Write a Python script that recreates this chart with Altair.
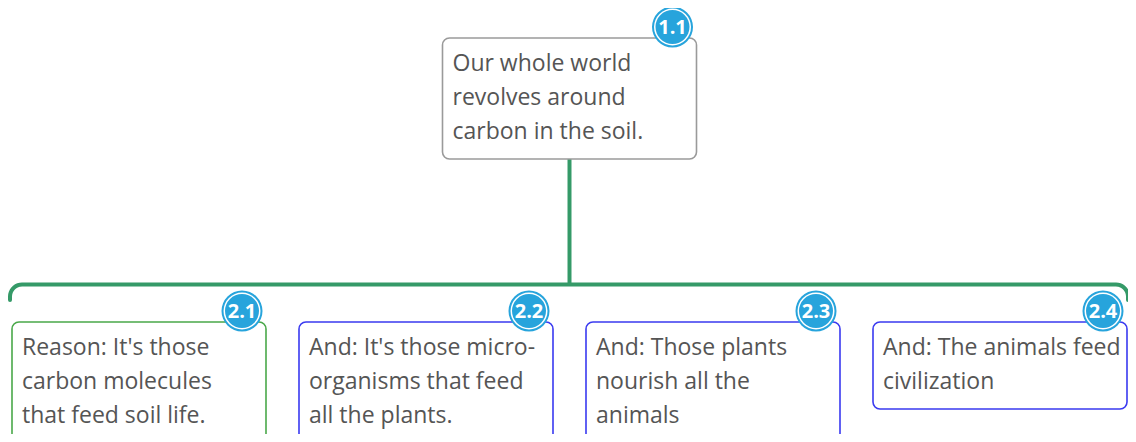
import altair as alt
import pandas as pd
import numpy as np

# ---- data ----
node_ids = ["1.1", "2.1", "2.2", "2.3", "2.4"]
node_lines = [
    ["Our whole world", "revolves around", "carbon in the soil."],
    ["Reason: It's those", "carbon molecules", "that feed soil life."],
    ["And: It's those micro-", "organisms that feed", "all the plants."],
    ["And: Those plants", "nourish all the", "animals"],
    ["And: The animals feed", "civilization"],
]
node_kind = ["claim", "reason", "and", "and", "and"]
node_level = [0, 1, 1, 1, 1]
node_col = [1.5, 0, 1, 2, 3]

# ---- layout ----
COL0, COLSTEP = 139, 287
BOX_W = 254
LINE_H = 34
LEVEL_TOP = [38, 322]
FONT = "Open Sans"
border = {"claim": "#9a9a9a", "reason": "#4aa84a", "and": "#3a3af0"}

boxes, texts, badges = [], [], []
for nid, lines, kind, lev, col in zip(node_ids, node_lines, node_kind, node_level, node_col):
    cx = COL0 + COLSTEP * col
    x0 = cx - BOX_W / 2
    y0 = LEVEL_TOP[lev]
    h = LINE_H * len(lines) + 19
    boxes.append(dict(id=nid, x=x0, x2=x0 + BOX_W, y=y0, y2=y0 + h, stroke=border[kind]))
    for i, t in enumerate(lines):
        texts.append(dict(id=nid, x=x0 + 10, y=y0 + 26 + LINE_H * i, t=t))
    badges.append(dict(id=nid, x=x0 + BOX_W - 24, y=y0 - 11))

boxes = pd.DataFrame(boxes)
texts = pd.DataFrame(texts)
badges = pd.DataFrame(badges)

# connector geometry
root_cx = COL0 + COLSTEP * 1.5
bar_y = 284.5
left, right, r = 10, 1128, 12
end_y = 300
pts = [(left, end_y)]
for a in np.linspace(np.pi, 1.5 * np.pi, 10):
    pts.append((left + r + r * np.cos(a), bar_y + r + r * np.sin(a)))
for a in np.linspace(1.5 * np.pi, 2 * np.pi, 10):
    pts.append((right - r + r * np.cos(a), bar_y + r + r * np.sin(a)))
pts.append((right, end_y))
bar = pd.DataFrame([dict(x=p[0], y=p[1], o=i) for i, p in enumerate(pts)])
stem = pd.DataFrame([dict(x=root_cx, y=boxes.y2[0], y2=bar_y)])

W, H = 1120, 426
xs = alt.Scale(domain=[8, 8 + W], range=[0, W], nice=False, zero=False)
ys = alt.Scale(domain=[8, 8 + H], range=[0, H], nice=False, zero=False)
X = lambda f: alt.X(f, type="quantitative", scale=xs, axis=None)
Y = lambda f: alt.Y(f, type="quantitative", scale=ys, axis=None)

green = "#359a68"
stem_l = alt.Chart(stem).mark_rule(stroke=green, strokeWidth=4).encode(
    x=X("x"), y=Y("y"), y2="y2")
bar_l = alt.Chart(bar).mark_line(stroke=green, strokeWidth=4, strokeCap="round").encode(
    x=X("x"), y=Y("y"), order="o:Q")
box_l = alt.Chart(boxes).mark_rect(fill="white", cornerRadius=7, strokeWidth=1.6).encode(
    x=X("x"), x2="x2", y=Y("y"), y2="y2",
    stroke=alt.Stroke("stroke:N", scale=None))
text_l = alt.Chart(texts).mark_text(align="left", baseline="middle", font=FONT,
                                    fontSize=23, color="#555555").encode(
    x=X("x"), y=Y("y"), text="t:N")
b_outer = alt.Chart(badges).mark_circle(size=41 * 41, color="#27a4dc", opacity=1).encode(
    x=X("x"), y=Y("y"))
b_mid = alt.Chart(badges).mark_circle(size=37 * 37, color="white", opacity=1).encode(
    x=X("x"), y=Y("y"))
b_inner = alt.Chart(badges).mark_circle(size=34 * 34, color="#27a4dc", opacity=1).encode(
    x=X("x"), y=Y("y"))
b_text = alt.Chart(badges).mark_text(font=FONT, fontSize=20, fontWeight="bold",
                                     color="white", baseline="middle", dy=0.5).encode(
    x=X("x"), y=Y("y"), text="id:N")

chart = alt.layer(stem_l, bar_l, box_l, text_l, b_outer, b_mid, b_inner, b_text).properties(
    width=W, height=H, padding=0, autosize=alt.AutoSizeParams(type="none")
).configure_view(stroke=None)

chart.save("out.html", embed_options={"renderer": "svg", "actions": False})
